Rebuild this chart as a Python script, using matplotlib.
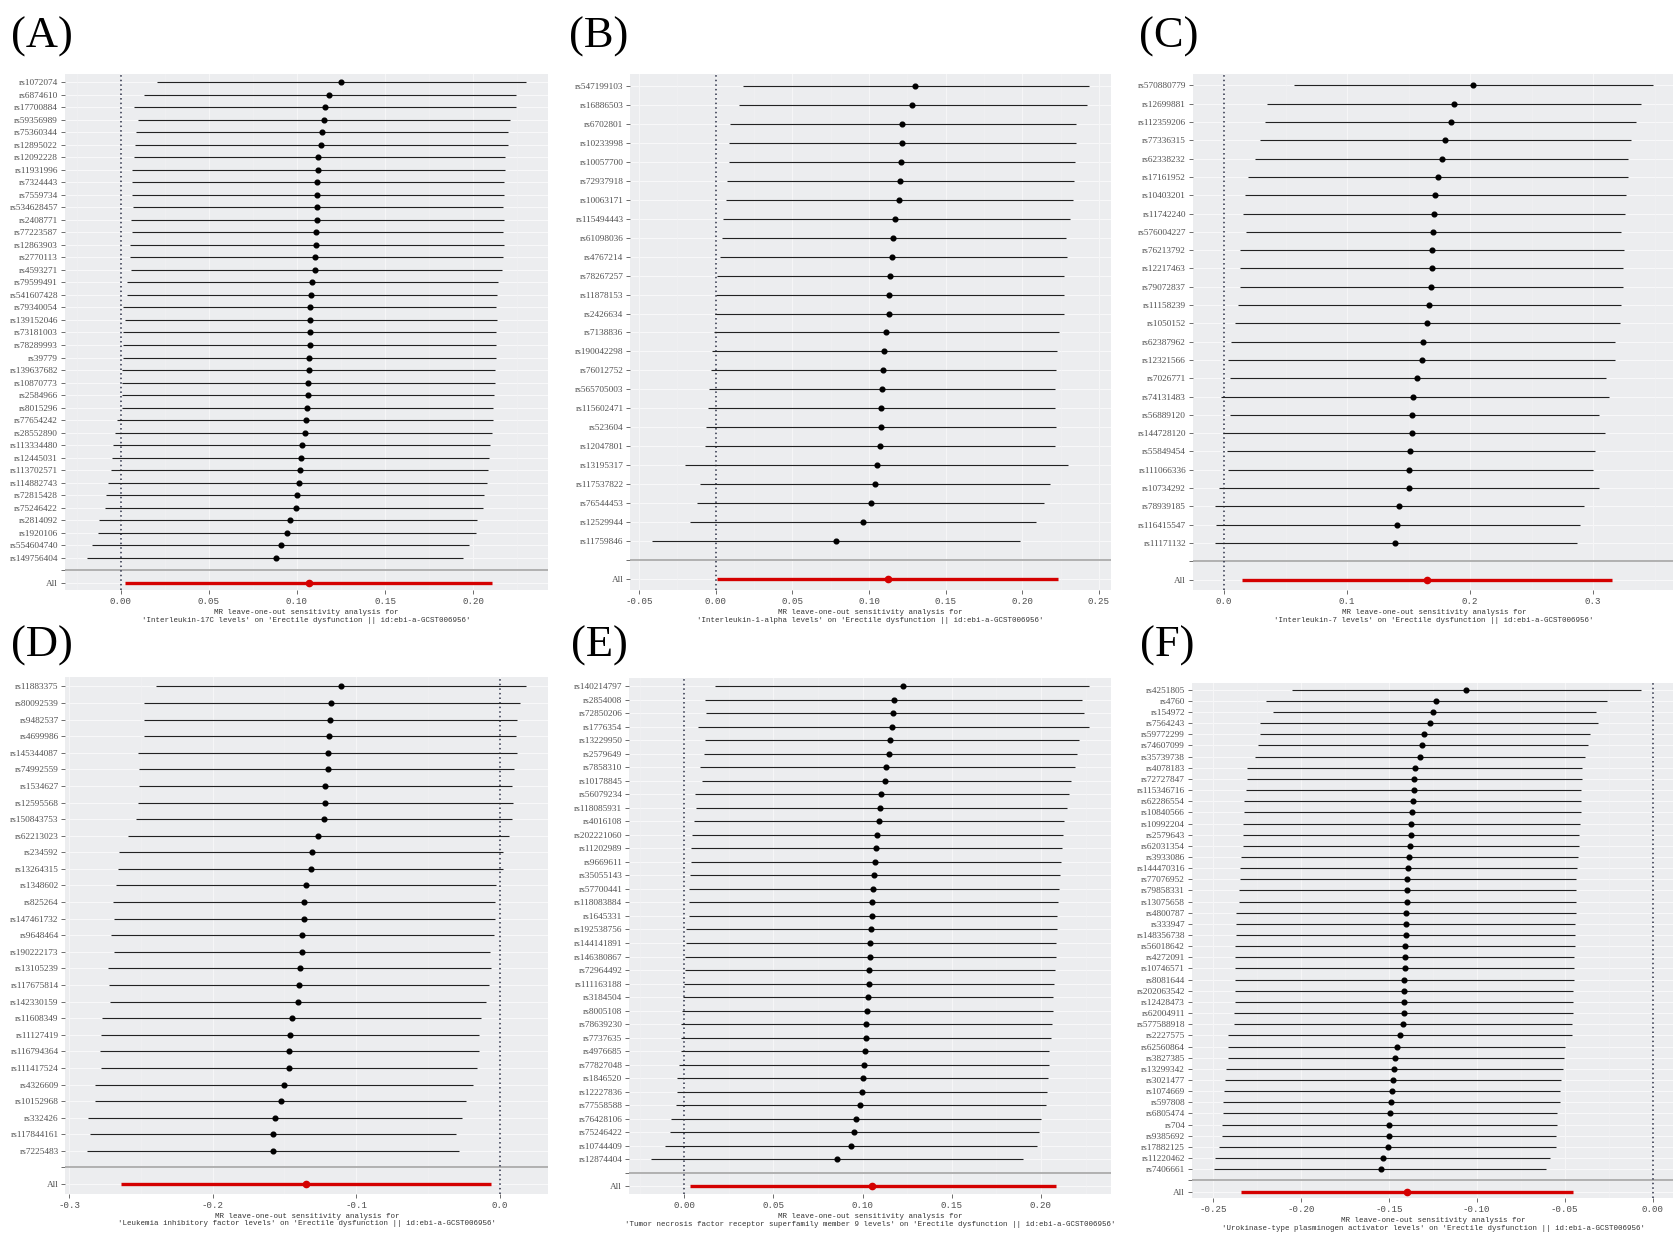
import numpy as np
import matplotlib
matplotlib.use('Agg')
import matplotlib.pyplot as plt
from matplotlib.ticker import MultipleLocator, FormatStrFormatter

# (A) Interleukin-17C
snp_a = ['rs1072074', 'rs6874610', 'rs17700884', 'rs59356989', 'rs75360344', 'rs12895022', 'rs12092228',
         'rs11931996', 'rs7324443', 'rs7559734', 'rs534628457', 'rs2408771', 'rs77223587', 'rs12863903',
         'rs2770113', 'rs4593271', 'rs79599491', 'rs541607428', 'rs79340054', 'rs139152046', 'rs73181003',
         'rs78289993', 'rs39779', 'rs139637682', 'rs10870773', 'rs2584966', 'rs8015296', 'rs77654242',
         'rs28552890', 'rs113334480', 'rs12445031', 'rs113702571', 'rs114882743', 'rs72815428', 'rs75246422',
         'rs2814092', 'rs1920106', 'rs554604740', 'rs149756404']
b_a = [0.1250, 0.1183, 0.1159, 0.1156, 0.1140, 0.1134, 0.1122, 0.1120, 0.1116, 0.1115, 0.1114, 0.1113, 0.1110,
       0.1108, 0.1104, 0.1102, 0.1086, 0.1080, 0.1075, 0.1074, 0.1073, 0.1072, 0.1068, 0.1066, 0.1062, 0.1060,
       0.1055, 0.1049, 0.1043, 0.1031, 0.1025, 0.1019, 0.1013, 0.1001, 0.0995, 0.0958, 0.0946, 0.0910, 0.0880]
lo_a = [0.0207, 0.0131, 0.0077, 0.0100, 0.0085, 0.0083, 0.0078, 0.0066, 0.0066, 0.0066, 0.0071, 0.0060, 0.0066,
        0.0055, 0.0055, 0.0058, 0.0034, 0.0034, 0.0015, 0.0025, 0.0013, 0.0013, 0.0013, 0.0010, 0.0005, 0.0010,
        0.0005, -0.0023, -0.0032, -0.0042, -0.0048, -0.0054, -0.0072, -0.0084, -0.0090, -0.0120, -0.0129,
        -0.0165, -0.0191]
hi_a = [0.2299, 0.2244, 0.2244, 0.2208, 0.2196, 0.2196, 0.2178, 0.2178, 0.2172, 0.2172, 0.2166, 0.2172, 0.2166,
        0.2172, 0.2166, 0.2160, 0.2141, 0.2135, 0.2129, 0.2135, 0.2129, 0.2129, 0.2129, 0.2123, 0.2123, 0.2117,
        0.2111, 0.2111, 0.2105, 0.2093, 0.2087, 0.2081, 0.2075, 0.2062, 0.2056, 0.2020, 0.2014, 0.1978, 0.1941]
all_a = [0.1066, 0.0024, 0.2107]

# (B) Interleukin-1-alpha
snp_b = ['rs547199103', 'rs16886503', 'rs6702801', 'rs10233998', 'rs10057700', 'rs72937918', 'rs10063171',
         'rs115494443', 'rs61098036', 'rs4767214', 'rs78267257', 'rs11878153', 'rs2426634', 'rs7138836',
         'rs190042298', 'rs76012752', 'rs565705003', 'rs115602471', 'rs523604', 'rs12047801', 'rs13195317',
         'rs117537822', 'rs76544453', 'rs12529944', 'rs11759846']
b_b = [0.1300, 0.1280, 0.1217, 0.1215, 0.1210, 0.1203, 0.1196, 0.1168, 0.1154, 0.1152, 0.1140, 0.1133, 0.1131,
       0.1112, 0.1098, 0.1091, 0.1084, 0.1077, 0.1076, 0.1070, 0.1050, 0.1036, 0.1015, 0.0959, 0.0785]
lo_b = [0.0178, 0.0150, 0.0095, 0.0088, 0.0088, 0.0074, 0.0067, 0.0046, 0.0039, 0.0025, 0.0011, 0.0004, -0.0003,
        -0.0010, -0.0024, -0.0031, -0.0045, -0.0052, -0.0066, -0.0072, -0.0198, -0.0100, -0.0121, -0.0170, -0.0414]
hi_b = [0.2436, 0.2422, 0.2353, 0.2353, 0.2346, 0.2339, 0.2332, 0.2311, 0.2283, 0.2290, 0.2269, 0.2269, 0.2269,
        0.2241, 0.2227, 0.2220, 0.2213, 0.2213, 0.2220, 0.2213, 0.2297, 0.2178, 0.2144, 0.2088, 0.1983]
all_b = [0.1123, 0.0007, 0.2236]

# (C) Interleukin-7
snp_c = ['rs570880779', 'rs12699881', 'rs112359206', 'rs77336315', 'rs62338232', 'rs17161952', 'rs10403201',
         'rs11742240', 'rs576004227', 'rs76213792', 'rs12217463', 'rs79072837', 'rs11158239', 'rs1050152',
         'rs62387962', 'rs12321566', 'rs7026771', 'rs74131483', 'rs56889120', 'rs144728120', 'rs55849454',
         'rs111066336', 'rs10734292', 'rs78939185', 'rs116415547', 'rs11171132']
b_c = [0.2024, 0.1868, 0.1842, 0.1799, 0.1773, 0.1738, 0.1712, 0.1703, 0.1694, 0.1692, 0.1686, 0.1684, 0.1668,
       0.1651, 0.1616, 0.1608, 0.1564, 0.1538, 0.1530, 0.1528, 0.1512, 0.1503, 0.1501, 0.1417, 0.1408, 0.1391]
lo_c = [0.0566, 0.0349, 0.0332, 0.0288, 0.0253, 0.0193, 0.0167, 0.0149, 0.0175, 0.0132, 0.0132, 0.0132, 0.0115,
        0.0089, 0.0054, 0.0028, 0.0047, -0.0030, 0.0047, -0.0008, 0.0020, 0.0033, -0.0040, -0.0076, -0.0067, -0.0076]
hi_c = [0.3483, 0.3387, 0.3344, 0.3309, 0.3283, 0.3283, 0.3266, 0.3257, 0.3222, 0.3248, 0.3240, 0.3240, 0.3222,
        0.3214, 0.3179, 0.3179, 0.3101, 0.3127, 0.3049, 0.3092, 0.3014, 0.2997, 0.3049, 0.2927, 0.2893, 0.2867]
all_c = [0.1646, 0.0146, 0.3150]

# (D) Leukemia inhibitory factor
snp_d = ['rs11883375', 'rs80092539', 'rs9482537', 'rs4699986', 'rs145344087', 'rs74992559', 'rs1534627',
         'rs12595568', 'rs150843753', 'rs62213023', 'rs234592', 'rs13264315', 'rs1348602', 'rs825264',
         'rs147461732', 'rs9648464', 'rs190222173', 'rs13105239', 'rs117675814', 'rs142330159', 'rs11608349',
         'rs11127419', 'rs116794364', 'rs111417524', 'rs4326609', 'rs10152968', 'rs332426', 'rs117844161',
         'rs7225483']
b_d = [-0.1109, -0.1176, -0.1184, -0.1191, -0.1199, -0.1200, -0.1214, -0.1215, -0.1221, -0.1266, -0.1311, -0.1318,
       -0.1348, -0.1363, -0.1364, -0.1378, -0.1379, -0.1392, -0.1400, -0.1407, -0.1445, -0.1459, -0.1467, -0.1468,
       -0.1504, -0.1526, -0.1564, -0.1579, -0.1580]
lo_d = [-0.2398, -0.2480, -0.2480, -0.2480, -0.2524, -0.2517, -0.2517, -0.2524, -0.2532, -0.2591, -0.2651, -0.2658,
        -0.2673, -0.2696, -0.2688, -0.2710, -0.2688, -0.2733, -0.2725, -0.2718, -0.2770, -0.2777, -0.2785, -0.2777,
        -0.2822, -0.2822, -0.2867, -0.2859, -0.2874]
hi_d = [0.0186, 0.0141, 0.0119, 0.0112, 0.0119, 0.0104, 0.0089, 0.0097, 0.0089, 0.0067, 0.0022, 0.0022, -0.0022,
        -0.0030, -0.0030, -0.0037, -0.0067, -0.0060, -0.0074, -0.0097, -0.0127, -0.0141, -0.0141, -0.0156,
        -0.0186, -0.0231, -0.0261, -0.0305, -0.0283]
all_d = [-0.1348, -0.2643, -0.0060]

# (E) TNF receptor superfamily member 9
snp_e = ['rs140214797', 'rs2854008', 'rs72850206', 'rs1776354', 'rs13229950', 'rs2579649', 'rs7858310',
         'rs10178845', 'rs56079234', 'rs118085931', 'rs4016108', 'rs202221060', 'rs11202989', 'rs9669611',
         'rs35055143', 'rs57700441', 'rs118083884', 'rs1645331', 'rs192538756', 'rs144141891', 'rs146380867',
         'rs72964492', 'rs111163188', 'rs3184504', 'rs8005108', 'rs78639230', 'rs7737635', 'rs4976685',
         'rs77827048', 'rs1846520', 'rs12227836', 'rs77558588', 'rs76428106', 'rs75246422', 'rs10744409',
         'rs12874404']
b_e = [0.1228, 0.1174, 0.1168, 0.1166, 0.1156, 0.1150, 0.1132, 0.1126, 0.1102, 0.1096, 0.1090, 0.1078, 0.1077,
       0.1072, 0.1066, 0.1060, 0.1054, 0.1053, 0.1048, 0.1042, 0.1041, 0.1036, 0.1035, 0.1030, 0.1024, 0.1018,
       0.1017, 0.1012, 0.1006, 0.1000, 0.0994, 0.0988, 0.0964, 0.0952, 0.0934, 0.0856]
lo_e = [0.0174, 0.0114, 0.0120, 0.0078, 0.0114, 0.0108, 0.0090, 0.0102, 0.0060, 0.0066, 0.0054, 0.0042, 0.0036,
        0.0036, 0.0030, 0.0024, 0.0024, 0.0024, 0.0012, 0.0012, 0.0006, 0.0006, 0.0000, -0.0006, -0.0012, -0.0018,
        -0.0018, -0.0018, -0.0030, -0.0042, -0.0042, -0.0048, -0.0072, -0.0078, -0.0108, -0.0186]
hi_e = [0.2269, 0.2228, 0.2240, 0.2269, 0.2216, 0.2204, 0.2192, 0.2168, 0.2156, 0.2144, 0.2132, 0.2126, 0.2120,
        0.2114, 0.2108, 0.2102, 0.2096, 0.2090, 0.2090, 0.2084, 0.2084, 0.2078, 0.2072, 0.2066, 0.2066, 0.2060,
        0.2054, 0.2048, 0.2048, 0.2042, 0.2036, 0.2030, 0.2000, 0.1988, 0.1976, 0.1898]
all_e = [0.1054, 0.0030, 0.2084]

# (F) Urokinase-type plasminogen activator
snp_f = ['rs4251805', 'rs4760', 'rs154972', 'rs7564243', 'rs59772299', 'rs74607099', 'rs35739738', 'rs4078183',
         'rs72727847', 'rs115346716', 'rs62286554', 'rs10840566', 'rs10992204', 'rs2579643', 'rs62031354',
         'rs3933086', 'rs144470316', 'rs77076952', 'rs79858331', 'rs13075658', 'rs4800787', 'rs333947',
         'rs148356738', 'rs56018642', 'rs4272091', 'rs10746571', 'rs8081644', 'rs202063542', 'rs12428473',
         'rs62004911', 'rs577588918', 'rs2227575', 'rs62560864', 'rs3827385', 'rs13299342', 'rs3021477',
         'rs1074669', 'rs597808', 'rs6805474', 'rs704', 'rs9385692', 'rs17882125', 'rs11220462', 'rs7406661']
b_f = [-0.1062, -0.1232, -0.1250, -0.1268, -0.1299, -0.1311, -0.1323, -0.1353, -0.1354, -0.1359, -0.1365, -0.1366,
       -0.1371, -0.1372, -0.1377, -0.1383, -0.1390, -0.1395, -0.1396, -0.1397, -0.1401, -0.1402, -0.1403, -0.1407,
       -0.1408, -0.1409, -0.1413, -0.1414, -0.1415, -0.1416, -0.1420, -0.1438, -0.1456, -0.1462, -0.1468, -0.1475,
       -0.1481, -0.1487, -0.1493, -0.1499, -0.1500, -0.1505, -0.1535, -0.1547]
lo_f = [-0.2051, -0.2197, -0.2160, -0.2233, -0.2233, -0.2245, -0.2263, -0.2306, -0.2306, -0.2312, -0.2324, -0.2324,
        -0.2330, -0.2330, -0.2330, -0.2342, -0.2348, -0.2348, -0.2354, -0.2354, -0.2367, -0.2367, -0.2367, -0.2373,
        -0.2373, -0.2373, -0.2373, -0.2373, -0.2373, -0.2379, -0.2379, -0.2415, -0.2415, -0.2415, -0.2427, -0.2433,
        -0.2439, -0.2445, -0.2445, -0.2451, -0.2451, -0.2464, -0.2488, -0.2494]
hi_f = [-0.0067, -0.0261, -0.0322, -0.0309, -0.0358, -0.0370, -0.0382, -0.0400, -0.0400, -0.0407, -0.0407, -0.0407,
        -0.0413, -0.0419, -0.0419, -0.0425, -0.0431, -0.0437, -0.0437, -0.0437, -0.0437, -0.0443, -0.0443, -0.0443,
        -0.0449, -0.0449, -0.0449, -0.0455, -0.0455, -0.0455, -0.0461, -0.0461, -0.0498, -0.0504, -0.0510, -0.0522,
        -0.0528, -0.0528, -0.0546, -0.0546, -0.0552, -0.0552, -0.0583, -0.0607]
all_f = [-0.1396, -0.2342, -0.0455]

exposures = ['Interleukin-17C levels', 'Interleukin-1-alpha levels', 'Interleukin-7 levels',
             'Leukemia inhibitory factor levels', 'Tumor necrosis factor receptor superfamily member 9 levels',
             'Urokinase-type plasminogen activator levels']
outcome = 'Erectile dysfunction || id:ebi-a-GCST006956'
letters = ['(A)', '(B)', '(C)', '(D)', '(E)', '(F)']
steps = [0.05, 0.05, 0.1, 0.1, 0.05, 0.05]
fmts = ['%.2f', '%.2f', '%.1f', '%.1f', '%.2f', '%.2f']

W, H = 1674, 1234
fig = plt.figure(figsize=(W / 100, H / 100), dpi=100)

# panel boxes in pixels: left, top, right, bottom
boxes = [(65, 74.5, 548, 590.5), (630.4, 74.5, 1111, 590.5), (1193, 74.5, 1674.5, 590.5),
         (65.5, 676.5, 548.2, 1194), (629.2, 678.3, 1110.8, 1194.2), (1192, 683, 1674.6, 1198.2)]
letter_pos = [(11, 37), (569, 37), (1139, 37), (11, 646), (571, 646), (1140, 646)]

data = [(snp_a, b_a, lo_a, hi_a, all_a), (snp_b, b_b, lo_b, hi_b, all_b), (snp_c, b_c, lo_c, hi_c, all_c),
        (snp_d, b_d, lo_d, hi_d, all_d), (snp_e, b_e, lo_e, hi_e, all_e), (snp_f, b_f, lo_f, hi_f, all_f)]

for k in range(6):
    snps, b, lo, hi, allr = data[k]
    l, t, r, btm = boxes[k]
    ax = fig.add_axes([l / W, 1 - btm / H, (r - l) / W, (btm - t) / H])
    ax.set_facecolor('#ECEDEF')
    n = len(snps)
    y = np.arange(n + 1, 1, -1)

    # grid like ggplot theme_grey, faded as in the scan
    for yy in range(n + 2):
        ax.axhline(yy, color='#F8F8F9', lw=0.8, zorder=0)
    xmin = min(min(lo), allr[1], 0)
    xmax = max(max(hi), allr[2], 0)
    pad = 0.05 * (xmax - xmin)
    ax.set_xlim(xmin - pad, xmax + pad)
    ax.set_ylim(-0.6, n + 1.6)
    ax.xaxis.set_major_locator(MultipleLocator(steps[k]))
    ax.xaxis.set_minor_locator(MultipleLocator(steps[k] / 2))
    ax.xaxis.set_major_formatter(FormatStrFormatter(fmts[k]))
    ax.grid(axis='x', which='major', color='#F6F6F7', lw=0.8, zorder=0)
    ax.grid(axis='x', which='minor', color='#F2F2F4', lw=0.4, zorder=0)
    ax.set_axisbelow(True)

    ax.axhline(1, color='#ABABAB', lw=1.3, zorder=1)
    ax.axvline(0, color='#2a2f45', ls=(0, (1, 2)), lw=1.1, zorder=2)

    ax.hlines(y, lo, hi, color='#222222', lw=0.8, zorder=3)
    ax.plot(b, y, 'o', color='black', ms=3.4, zorder=4)
    ax.hlines(0, allr[1], allr[2], color='#D40000', lw=2.4, zorder=3)
    ax.plot(allr[0], 0, 'o', color='#D40000', ms=4.5, zorder=4)

    ax.set_yticks(list(y) + [1, 0])
    ax.set_yticklabels(snps + ['', 'All'], family='Liberation Serif', fontsize=6.7, color='#505050')
    for lab in ax.get_xticklabels():
        lab.set_family('Liberation Mono')
        lab.set_fontsize(6.6)
        lab.set_color('#4D4D4D')
    ax.tick_params(axis='both', which='major', length=3, width=0.6, color='#555555', pad=2)
    ax.tick_params(axis='x', which='minor', length=0)
    for s in ax.spines.values():
        s.set_visible(False)

    ax.set_xlabel("MR leave-one-out sensitivity analysis for\n'" + exposures[k] + "' on '" + outcome + "'",
                  family='Liberation Mono', fontsize=5.4, color='#333333', labelpad=2, linespacing=1.15)

    fig.text(letter_pos[k][0] / W, 1 - letter_pos[k][1] / H, letters[k], family='Liberation Serif',
             fontsize=32, va='center', ha='left')

fig.savefig('out.png', dpi=100, facecolor='white')
